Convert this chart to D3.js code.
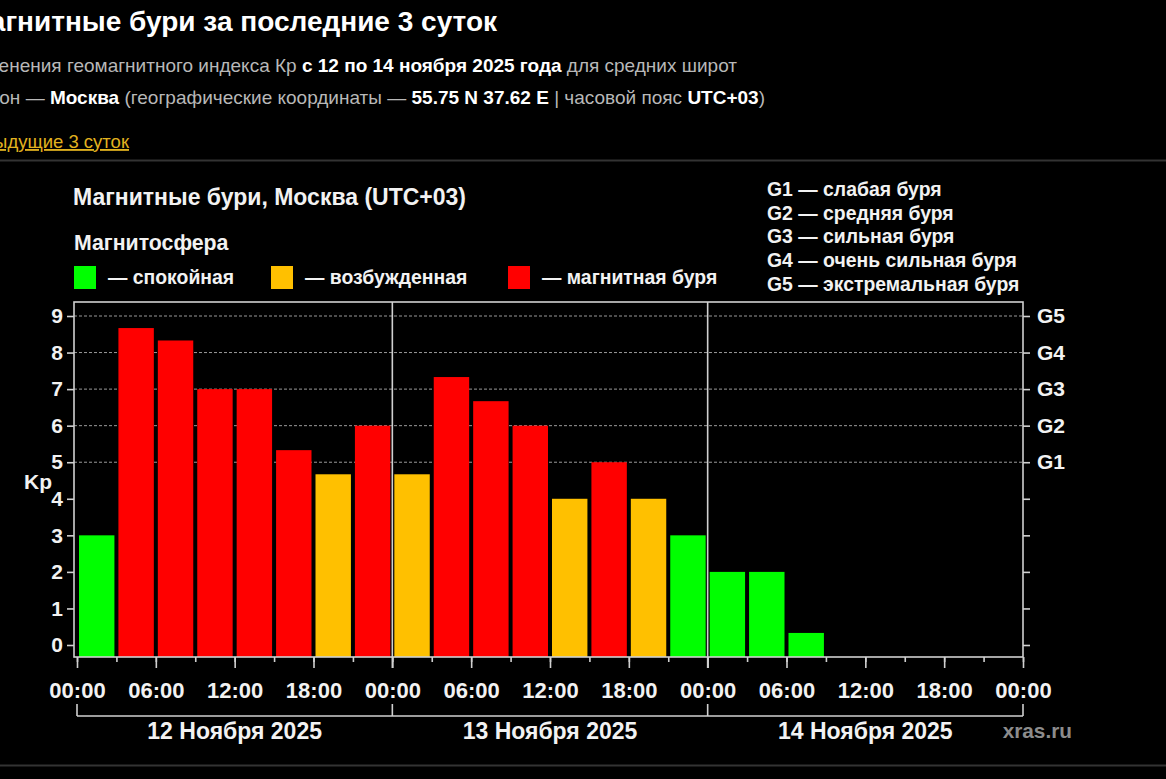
<!DOCTYPE html>
<html><head><meta charset="utf-8">
<script src="https://cdn.jsdelivr.net/npm/d3@7"></script>
<style>
html,body{margin:0;padding:0;background:#000;overflow:hidden}
svg{display:block;font-family:"Liberation Sans",Arial,Helvetica,sans-serif}
</style></head><body>
<svg id="c" width="1166" height="779"></svg>
<script>
// ---------- DATA ----------
const slotStarts = [
  "2025-11-12T00:00Z","2025-11-12T03:00Z","2025-11-12T06:00Z","2025-11-12T09:00Z",
  "2025-11-12T12:00Z","2025-11-12T15:00Z","2025-11-12T18:00Z","2025-11-12T21:00Z",
  "2025-11-13T00:00Z","2025-11-13T03:00Z","2025-11-13T06:00Z","2025-11-13T09:00Z",
  "2025-11-13T12:00Z","2025-11-13T15:00Z","2025-11-13T18:00Z","2025-11-13T21:00Z",
  "2025-11-14T00:00Z","2025-11-14T03:00Z","2025-11-14T06:00Z"
];
const kpValues = [3, 8.67, 8.33, 7, 7, 5.33, 4.67, 6,
                  4.67, 7.33, 6.67, 6, 4, 5, 4, 3,
                  2, 2, 0.33];
const dayLabels = ["12 Ноября 2025", "13 Ноября 2025", "14 Ноября 2025"];
const dayStarts = ["2025-11-12T00:00Z","2025-11-13T00:00Z","2025-11-14T00:00Z","2025-11-15T00:00Z"];
const yTicks = [0,1,2,3,4,5,6,7,8,9];
const gLevels = [5,6,7,8,9];
const gLabels = ["G1","G2","G3","G4","G5"];
const gLegend = ["G1 — слабая буря","G2 — средняя буря","G3 — сильная буря","G4 — очень сильная буря","G5 — экстремальная буря"];
const stateNames = ["— спокойная","— возбужденная","— магнитная буря"];
const stateColors = ["#00ff00","#ffc000","#ff0000"];
const stateThresholds = [4, 5];
const pageTitle = "Магнитные бури за последние 3 суток";
const chartTitle = "Магнитные бури, Москва (UTC+03)";
const legendTitle = "Магнитосфера";

// ---------- SETUP ----------
const svg = d3.select("#c");
const W = 1166, H = 779;
svg.append("rect").attr("width",W).attr("height",H).attr("fill","#000");

const parse = d => new Date(d);
const starts = slotStarts.map(parse);
const days = dayStarts.map(parse);
const data = starts.map((t,i)=>({t, v:kpValues[i]}));

const frameL = 74, frameR = 1023, frameT = 302, frameB = 657;
const x = d3.scaleUtc().domain([days[0], days[days.length-1]]).range([77, 1023]);
const y = d3.scaleLinear().domain([0,9]).range([645,316]);
const color = d3.scaleThreshold().domain(stateThresholds).range(stateColors);
const axisCol = "#d0d0d0", textCol = "#f2f2f2";

// ---------- HEADER ----------
svg.append("text").attr("x",497).attr("y",31).attr("text-anchor","end")
  .attr("fill","#fff").attr("font-size",28).attr("font-weight","bold").text(pageTitle);

function richLine(xEnd, yb, parts, size){
  const t = svg.append("text").attr("x",xEnd).attr("y",yb).attr("text-anchor","end").attr("font-size",size);
  parts.forEach(p=>t.append("tspan").text(p[0]).attr("fill",p[1]?"#ffffff":"#b8b8b8").attr("font-weight",p[1]?"bold":"normal"));
}
richLine(737, 72, [["Изменения геомагнитного индекса Кр ",0],["с 12 по 14 ноября 2025 года",1],[" для средних широт",0]], 19);
richLine(765, 104, [["Регион — ",0],["Москва",1],[" (географические координаты — ",0],["55.75 N 37.62 E",1],[" | часовой пояс ",0],["UTC+03",1],[")",0]], 19);
svg.append("text").attr("x",129).attr("y",148).attr("text-anchor","end").attr("font-size",18.5)
  .attr("fill","#e2b21f").attr("text-decoration","underline").text("Предыдущие 3 суток");

svg.append("line").attr("x1",0).attr("x2",W).attr("y1",160.5).attr("y2",160.5).attr("stroke","#333").attr("stroke-width",2);
svg.append("line").attr("x1",0).attr("x2",W).attr("y1",765.5).attr("y2",765.5).attr("stroke","#333").attr("stroke-width",2);

// ---------- CHART TITLES & LEGENDS ----------
svg.append("text").attr("x",73).attr("y",205).attr("fill",textCol).attr("font-size",23).attr("font-weight","bold").text(chartTitle);
svg.append("text").attr("x",74).attr("y",250).attr("fill",textCol).attr("font-size",21.3).attr("font-weight","bold").text(legendTitle);
const legX = [74, 271, 508];
const leg = svg.selectAll("g.leg").data(stateNames).join("g").attr("class","leg")
  .attr("transform",(d,i)=>`translate(${legX[i]},266)`);
leg.append("rect").attr("width",22).attr("height",23).attr("fill",(d,i)=>stateColors[i]);
leg.append("text").attr("x",34).attr("y",18).attr("fill",textCol).attr("font-size",19.4).attr("font-weight","bold").text(d=>d);

svg.selectAll("text.gleg").data(gLegend).join("text").attr("class","gleg")
  .attr("x",767).attr("y",(d,i)=>196+i*23.7).attr("fill",textCol).attr("font-size",19.4).attr("font-weight","bold").text(d=>d);

// ---------- GRID ----------
svg.append("g").selectAll("line").data(gLevels).join("line")
  .attr("x1",frameL).attr("x2",frameR).attr("y1",d=>y(d)).attr("y2",d=>y(d))
  .attr("stroke","#9a9a9a").attr("stroke-width",1).attr("stroke-dasharray","3,2");

// ---------- BARS ----------
const slotW = x(d3.utcHour.offset(days[0],3)) - x(days[0]);
svg.append("g").selectAll("rect").data(data).join("rect")
  .attr("x",d=>x(d.t)+2).attr("width",slotW-4)
  .attr("y",d=>y(d.v)).attr("height",d=>frameB - y(d.v))
  .attr("fill",d=>color(d.v));

// ---------- FRAME ----------
svg.append("rect").attr("x",frameL).attr("y",frameT).attr("width",frameR-frameL).attr("height",frameB-frameT)
  .attr("fill","none").attr("stroke",axisCol).attr("stroke-width",1.6);
svg.append("g").selectAll("line").data(days.slice(1,-1)).join("line")
  .attr("x1",d=>x(d)).attr("x2",d=>x(d)).attr("y1",frameT).attr("y2",668)
  .attr("stroke",axisCol).attr("stroke-width",1.6);

// ---------- AXES ----------
const fmt = d3.utcFormat("%H:%M");
const xMajor = d3.axisBottom(x).ticks(d3.utcHour.every(6)).tickSize(11).tickPadding(14).tickFormat(fmt);
const gx = svg.append("g").attr("transform",`translate(0,${frameB})`).call(xMajor);
gx.select(".domain").remove();
gx.selectAll(".tick line").attr("stroke",axisCol).attr("stroke-width",1.6);
gx.selectAll(".tick text").attr("fill",textCol).attr("font-size",22).attr("font-weight","bold").attr("font-family","Liberation Sans, Arial, sans-serif");
const xMinor = d3.axisBottom(x).ticks(d3.utcHour.every(3)).tickSize(5).tickFormat("");
const gxm = svg.append("g").attr("transform",`translate(0,${frameB})`).call(xMinor);
gxm.select(".domain").remove();
gxm.selectAll(".tick line").attr("stroke",axisCol).attr("stroke-width",1.6);

const yL = d3.axisLeft(y).tickValues(yTicks).tickSize(7).tickPadding(4).tickFormat(d3.format("d"));
const gy = svg.append("g").attr("transform",`translate(${frameL},0)`).call(yL);
gy.select(".domain").remove();
gy.selectAll(".tick line").attr("stroke",axisCol).attr("stroke-width",1.6);
gy.selectAll(".tick text").attr("fill",textCol).attr("font-size",21).attr("font-weight","bold").attr("font-family","Liberation Sans, Arial, sans-serif");

const yR = d3.axisRight(y).tickValues(yTicks).tickSize(7).tickPadding(7)
  .tickFormat(d => { const k = gLevels.indexOf(d); return k>=0 ? gLabels[k] : ""; });
const gyr = svg.append("g").attr("transform",`translate(${frameR},0)`).call(yR);
gyr.select(".domain").remove();
gyr.selectAll(".tick line").attr("stroke",axisCol).attr("stroke-width",1.6);
gyr.selectAll(".tick text").attr("fill",textCol).attr("font-size",21).attr("font-weight","bold").attr("font-family","Liberation Sans, Arial, sans-serif");

svg.append("text").attr("x",38).attr("y",y(4.5)+8).attr("text-anchor","middle").attr("fill",textCol)
  .attr("font-size",21).attr("font-weight","bold").text("Kp");

// ---------- DAY BRACKET ----------
const br = svg.append("g");
br.append("line").attr("x1",x(days[0])).attr("x2",x(days[days.length-1])).attr("y1",716).attr("y2",716)
  .attr("stroke",axisCol).attr("stroke-width",1.6);
br.selectAll("line.bt").data(days).join("line").attr("class","bt")
  .attr("x1",d=>x(d)).attr("x2",d=>x(d)).attr("y1",704).attr("y2",716).attr("stroke",axisCol).attr("stroke-width",1.6);
br.selectAll("text").data(dayLabels).join("text")
  .attr("x",(d,i)=>(x(days[i])+x(days[i+1]))/2).attr("y",739).attr("text-anchor","middle")
  .attr("fill",textCol).attr("font-size",23).attr("font-weight","bold").text(d=>d);

svg.append("text").attr("x",1072).attr("y",738).attr("text-anchor","end").attr("fill","#8c8c8c")
  .attr("font-size",20.8).attr("font-weight","bold").text("xras.ru");
</script>
</body></html>
